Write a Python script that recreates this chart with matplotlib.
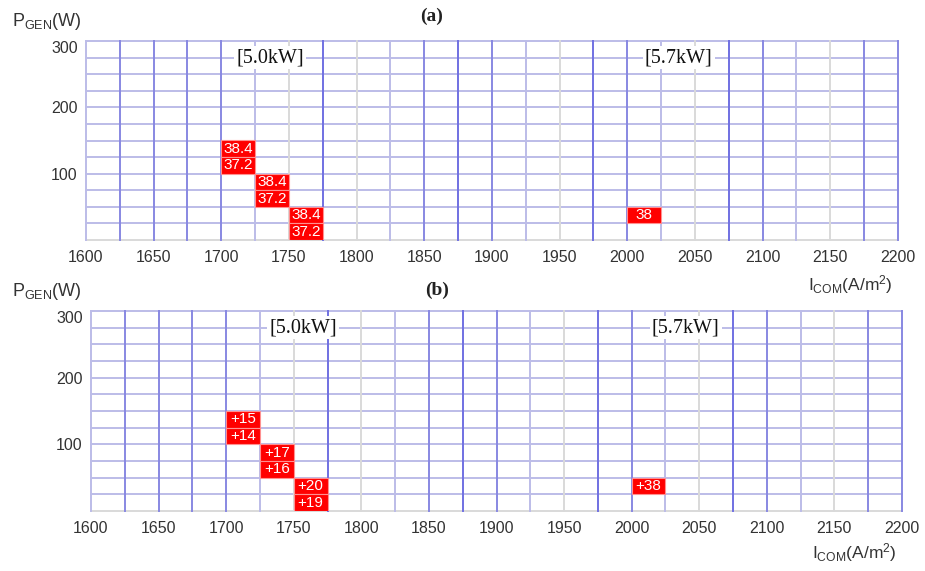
import numpy as np
import matplotlib
matplotlib.use("Agg")
from matplotlib import pyplot as plt

plt.rcParams['font.family'] = ['Liberation Sans', 'DejaVu Sans']
plt.rcParams['mathtext.fontset'] = 'custom'
plt.rcParams['mathtext.rm'] = 'Liberation Sans'
plt.rcParams['mathtext.it'] = 'Liberation Sans'

# data
x_ticks = [1600, 1650, 1700, 1750, 1800, 1850, 1900, 1950, 2000, 2050, 2100, 2150, 2200]
y_ticks = [100, 200, 300]
cell_x = [1700, 1700, 1725, 1725, 1750, 1750, 2000]   # left edge of cell (A/m2)
cell_y = [125, 100, 75, 50, 25, 0, 25]                 # bottom edge of cell (W)
labels_a = ["38.4", "37.2", "38.4", "37.2", "38.4", "37.2", "38"]
labels_b = ["+15", "+14", "+17", "+16", "+20", "+19", "+38"]
power_labels = ["[5.0kW]", "[5.7kW]"]
power_x_a = [1736, 2038]
power_x_b = [1757, 2040]
power_y = 275

step = 25
x_grid = np.arange(1600, 2201, step)
y_grid = np.arange(0, 301, step)

# grid colours (original uses mixed shades)
BLUE, DARK, LAV, GRAY = '#8888e2', '#7070e2', '#bcbce8', '#d9d9d9'
v_colors = [LAV, BLUE, BLUE, BLUE, BLUE, LAV, GRAY, DARK, GRAY, LAV, BLUE, DARK, BLUE,
            LAV, GRAY, DARK, BLUE, LAV, GRAY, DARK, BLUE, LAV, GRAY, BLUE, BLUE]


def draw_panel(ax, labels, power_x):
    ax.set_xlim(1600, 2200)
    ax.set_ylim(0, 300)
    for s in ax.spines.values():
        s.set_visible(False)

    for y in y_grid:
        c = GRAY if y == 0 else LAV
        ax.axhline(y, color=c, lw=1.4, zorder=1, clip_on=False)
    for x, c in zip(x_grid, v_colors):
        ax.axvline(x, color=c, lw=1.4, zorder=2, clip_on=False)

    ax.bar(cell_x, step, width=step, bottom=cell_y, align='edge',
           color='#ff0000', edgecolor='#ff9090', linewidth=0.8, zorder=3)
    for x, y, t in zip(cell_x, cell_y, labels):
        ax.text(x + step / 2, y + step / 2, t, color='white', fontsize=11,
                ha='center', va='center', zorder=4)

    for x, t in zip(power_x, power_labels):
        ax.text(x, power_y, t, family='Liberation Serif', fontsize=14.5, color='#111111',
                ha='center', va='center', zorder=5,
                bbox=dict(facecolor='white', edgecolor='none', pad=1.5))

    ax.set_xticks(x_ticks)
    ax.set_xticklabels([str(v) for v in x_ticks])
    ax.set_yticks(y_ticks)
    ax.set_yticklabels([str(v) for v in y_ticks])
    ax.tick_params(length=0, labelsize=11.5, labelcolor='#333333', pad=7)
    ax.tick_params(axis='y', pad=6)
    ax.get_yticklabels()[-1].set_va('top')


fig = plt.figure(figsize=(9.25, 5.71), dpi=100)
ax1 = fig.add_axes([86 / 925, 1 - 240 / 571, 812 / 925, 199 / 571])
ax2 = fig.add_axes([91 / 925, 1 - 511 / 571, 811 / 925, 200 / 571])

draw_panel(ax1, labels_a, power_x_a)
draw_panel(ax2, labels_b, power_x_b)

ylab = r"P$_{\mathrm{GEN}}$(W)"
xlab = r"I$_{\mathrm{COM}}$(A/m$^{2}$)"
fig.text(12 / 925, 1 - 22 / 571, ylab, fontsize=13, color='#333333', va='center')
fig.text(12 / 925, 1 - 292 / 571, ylab, fontsize=13, color='#333333', va='center')
fig.text(808 / 925, 1 - 285 / 571, xlab, fontsize=12.5, color='#333333', va='center')
fig.text(812 / 925, 1 - 553 / 571, xlab, fontsize=12.5, color='#333333', va='center')
fig.text(432 / 925, 1 - 16 / 571, "(a)", family='Liberation Serif', fontsize=14,
         weight='bold', color='#222222', ha='center', va='center')
fig.text(437 / 925, 1 - 290 / 571, "(b)", family='Liberation Serif', fontsize=14,
         weight='bold', color='#222222', ha='center', va='center')

fig.savefig("out.png", dpi=100, facecolor='white')
